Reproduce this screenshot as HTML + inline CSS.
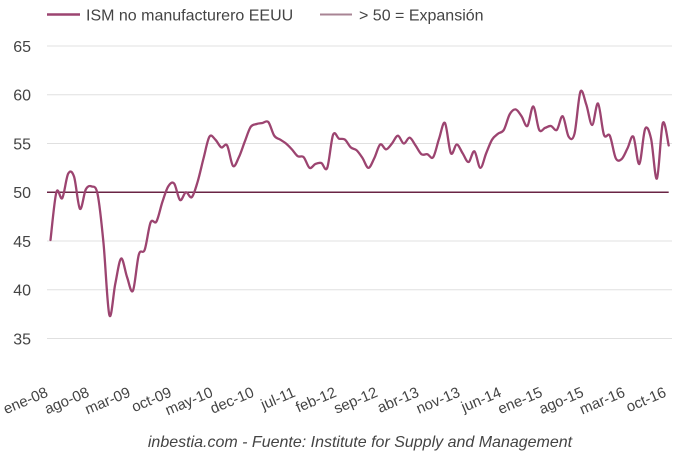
<!DOCTYPE html>
<html>
<head>
<meta charset="utf-8">
<style>
  html,body{margin:0;padding:0;background:#fff;}
  body{width:680px;height:460px;overflow:hidden;}
  svg{display:block;}
  text{font-family:"Liberation Sans",Arial,sans-serif;fill:#444;}
</style>
</head>
<body>
<svg id="chart" width="680" height="460" viewBox="0 0 680 460" xmlns="http://www.w3.org/2000/svg">
  <!-- legend -->
  <line x1="47" y1="14.5" x2="80" y2="14.5" stroke="#9c4470" stroke-width="2.5"/>
  <text x="86" y="20.5" font-size="16">ISM no manufacturero EEUU</text>
  <line x1="320" y1="14.5" x2="352" y2="14.5" stroke="#a88494" stroke-width="2"/>
  <text x="359" y="20.5" font-size="16">&gt; 50 = Expansión</text>

  <!-- gridlines -->
  <g stroke="#e0e0e0" stroke-width="1">
    <line x1="47" y1="46" x2="672" y2="46"/>
    <line x1="47" y1="94.75" x2="672" y2="94.75"/>
    <line x1="47" y1="143.5" x2="672" y2="143.5"/>
    <line x1="47" y1="241" x2="672" y2="241"/>
    <line x1="47" y1="289.75" x2="672" y2="289.75"/>
    <line x1="47" y1="338.5" x2="672" y2="338.5"/>
  </g>

  <!-- y labels -->
  <g font-size="16" text-anchor="end">
    <text x="31" y="51.8">65</text>
    <text x="31" y="100.5">60</text>
    <text x="31" y="149.3">55</text>
    <text x="31" y="198">50</text>
    <text x="31" y="246.8">45</text>
    <text x="31" y="295.5">40</text>
    <text x="31" y="344.3">35</text>
  </g>

  <!-- 50 line -->
  <line x1="47" y1="192.25" x2="668.7" y2="192.25" stroke="#6a2444" stroke-width="1.4"/>

  <!-- series fallback (data coords) -->
  <polyline id="fallback" fill="none" stroke="#9c4470" stroke-width="2.3" stroke-linejoin="round" vector-effect="non-scaling-stroke"
    transform="matrix(5.8876 0 0 -9.75 50.5 679.75)"
    points="0,45.1 1,50.0 2,49.4 3,51.9 4,51.6 5,48.3 6,50.3 7,50.6 8,49.8 9,44.8 10,37.4 11,40.6 12,43.2 13,41.3 14,39.9 15,43.6 16,44.1 17,46.9 18,47.0 19,49.0 20,50.6 21,50.9 22,49.2 23,50.0 24,49.5 25,51.1 26,53.5 27,55.7 28,55.4 29,54.6 30,54.8 31,52.7 32,53.6 33,55.2 34,56.7 35,57.0 36,57.1 37,57.2 38,55.8 39,55.4 40,55.0 41,54.4 42,53.7 43,53.6 44,52.5 45,52.9 46,53.0 47,52.5 48,55.9 49,55.5 50,55.4 51,54.6 52,54.3 53,53.5 54,52.5 55,53.5 56,54.9 57,54.4 58,55.0 59,55.8 60,55.0 61,55.6 62,54.8 63,53.9 64,53.9 65,53.6 66,55.5 67,57.1 68,54.0 69,54.9 70,54.0 71,53.1 72,54.2 73,52.5 74,54.0 75,55.4 76,56.0 77,56.4 78,58.0 79,58.5 80,57.8 81,56.8 82,58.8 83,56.4 84,56.6 85,56.8 86,56.4 87,57.8 88,55.7 89,56.0 90,60.3 91,59.0 92,56.9 93,59.1 94,55.9 95,55.8 96,53.5 97,53.4 98,54.5 99,55.7 100,52.9 101,56.5 102,55.5 103,51.4 104,57.1 105,54.8"/>
  <path id="series" fill="none" stroke="#9c4470" stroke-width="2.3" stroke-linejoin="round" stroke-linecap="round" d=""/>

  <!-- x labels -->
  <g font-size="15" text-anchor="end">
    <text transform="translate(49,396) rotate(-23)">ene-08</text>
    <text transform="translate(90.2,396) rotate(-23)">ago-08</text>
    <text transform="translate(131.4,396) rotate(-23)">mar-09</text>
    <text transform="translate(172.6,396) rotate(-23)">oct-09</text>
    <text transform="translate(213.9,396) rotate(-23)">may-10</text>
    <text transform="translate(255.1,396) rotate(-23)">dec-10</text>
    <text transform="translate(296.3,396) rotate(-23)">jul-11</text>
    <text transform="translate(337.5,396) rotate(-23)">feb-12</text>
    <text transform="translate(378.7,396) rotate(-23)">sep-12</text>
    <text transform="translate(419.9,396) rotate(-23)">abr-13</text>
    <text transform="translate(461.1,396) rotate(-23)">nov-13</text>
    <text transform="translate(502.3,396) rotate(-23)">jun-14</text>
    <text transform="translate(543.5,396) rotate(-23)">ene-15</text>
    <text transform="translate(584.7,396) rotate(-23)">ago-15</text>
    <text transform="translate(626,396) rotate(-23)">mar-16</text>
    <text transform="translate(667.2,396) rotate(-23)">oct-16</text>
  </g>

  <!-- footer -->
  <text x="360" y="447" font-size="16" font-style="italic" text-anchor="middle">inbestia.com - Fuente: Institute for Supply and Management</text>
</svg>
<script>
(function(){
  var d=[45.1,50.0,49.4,51.9,51.6,48.3,50.3,50.6,49.8,44.8,37.4,40.6,
  43.2,41.3,39.9,43.6,44.1,46.9,47.0,49.0,50.6,50.9,49.2,50.0,
  49.5,51.1,53.5,55.7,55.4,54.6,54.8,52.7,53.6,55.2,56.7,57.0,
  57.1,57.2,55.8,55.4,55.0,54.4,53.7,53.6,52.5,52.9,53.0,52.5,
  55.9,55.5,55.4,54.6,54.3,53.5,52.5,53.5,54.9,54.4,55.0,55.8,
  55.0,55.6,54.8,53.9,53.9,53.6,55.5,57.1,54.0,54.9,54.0,53.1,
  54.2,52.5,54.0,55.4,56.0,56.4,58.0,58.5,57.8,56.8,58.8,56.4,
  56.6,56.8,56.4,57.8,55.7,56.0,60.3,59.0,56.9,59.1,55.9,55.8,
  53.5,53.4,54.5,55.7,52.9,56.5,55.5,51.4,57.1,54.8];
  var P=d.map(function(v,i){return {x:50.5+i*5.8876,y:192.25-(v-50)*9.75};});
  var k=1/6;
  var path='M'+P[0].x.toFixed(2)+','+P[0].y.toFixed(2);
  for(var i=0;i<P.length-1;i++){
    var p0=P[i-1]||P[i],p1=P[i],p2=P[i+1],p3=P[i+2]||P[i+1];
    var c1x=p1.x+(p2.x-p0.x)*k,c1y=p1.y+(p2.y-p0.y)*k;
    var c2x=p2.x-(p3.x-p1.x)*k,c2y=p2.y-(p3.y-p1.y)*k;
    path+=' C'+c1x.toFixed(2)+','+c1y.toFixed(2)+' '+c2x.toFixed(2)+','+c2y.toFixed(2)+' '+p2.x.toFixed(2)+','+p2.y.toFixed(2);
  }
  document.getElementById('series').setAttribute('d',path);
  document.getElementById('fallback').style.display='none';
})();
</script>
</body>
</html>
